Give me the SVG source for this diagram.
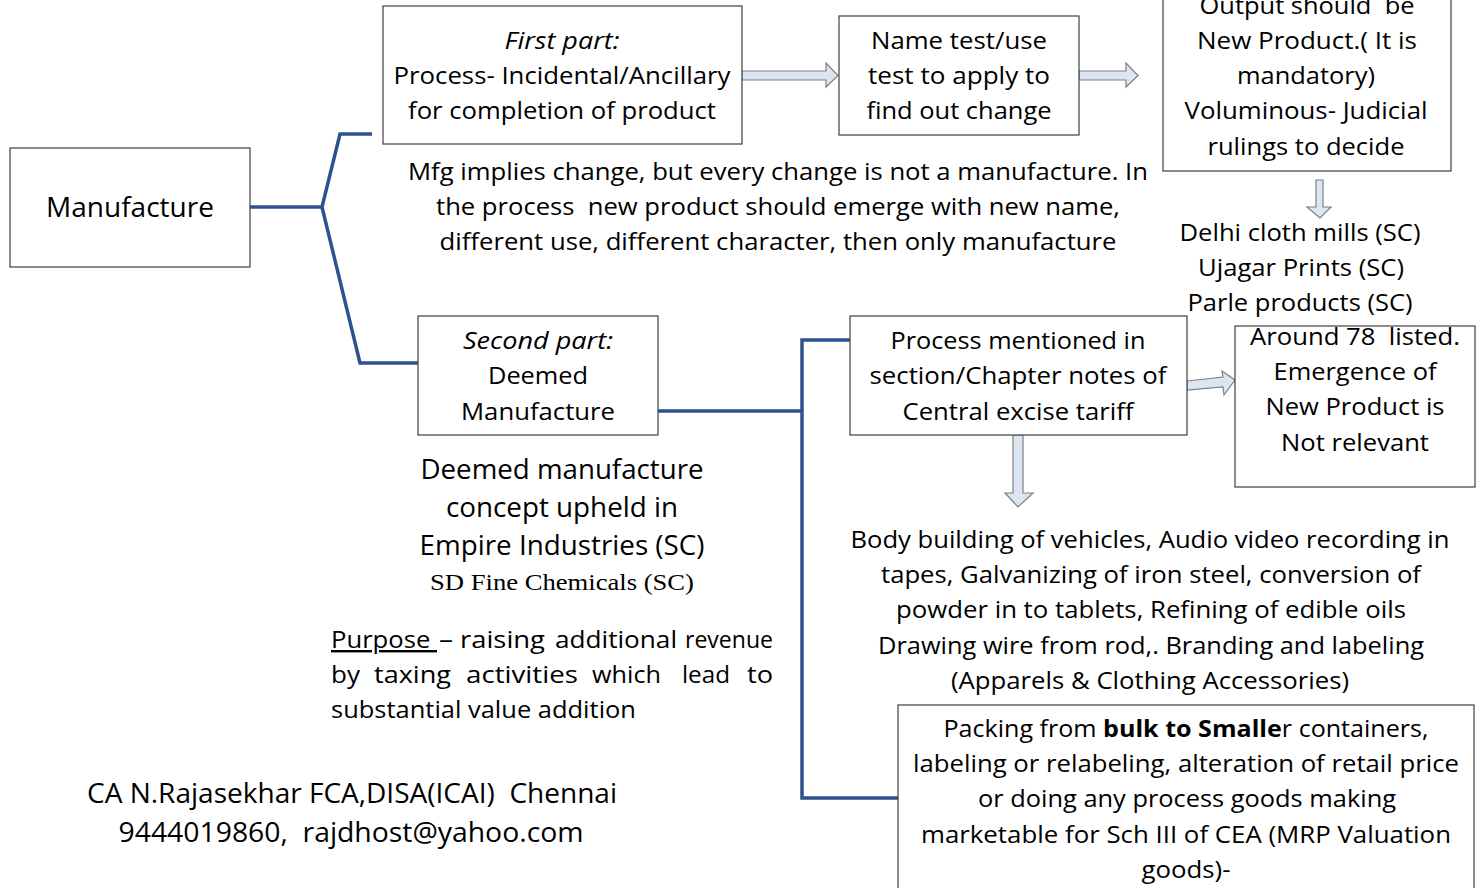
<svg xmlns="http://www.w3.org/2000/svg" width="1482" height="888" viewBox="0 0 1482 888">
<style>
.box{fill:#ffffff;stroke:#404040;stroke-width:1.2}
.t{font-family:"Open Sans","Liberation Sans",sans-serif;font-size:24px;fill:#000;text-anchor:middle}
.l{font-family:"Open Sans","Liberation Sans",sans-serif;font-size:24px;fill:#000}
.big{font-size:28px}
.it{font-style:italic}
.conn{fill:none;stroke:#2F528F;stroke-width:3.5;stroke-linejoin:miter}
.harrow{fill:#DCE6F2;stroke:#7F7F7F;stroke-width:1.2}
</style>
<rect width="1482" height="888" fill="#ffffff"/>

<g id="connectors">
<polyline class="conn" points="250,207 322,207"/>
<polyline class="conn" points="372,134 340,134 322,207 360,363 418,363"/>
<polyline class="conn" points="658,411 802,411"/>
<polyline class="conn" points="850,340 802,340 802,798 898,798"/>
<polygon class="harrow" points="742,71 826,71 826,63 838,75.5 826,87 826,80 742,80"/>
<polygon class="harrow" points="1079,71 1126,71 1126,63 1138,75.5 1126,87 1126,80 1079,80"/>
<polygon class="harrow" points="1316,180 1323,180 1323,207 1331,207 1320,218 1307,207 1316,207"/>
<polygon class="harrow" points="1013,435 1023,435 1023,493 1033,493 1018,507 1005,493 1013,493"/>
<polygon class="harrow" points="1187,381 1223,377 1222,371 1235,380 1224,395 1223,387 1187,390"/>
</g>

<g id="manufacture">
<rect class="box" x="10" y="148" width="240" height="119"/>
<text class="t big" x="130" y="217" textLength="168" lengthAdjust="spacingAndGlyphs">Manufacture</text>
</g>

<g id="first-part">
<rect class="box" x="383" y="6" width="359" height="138"/>
<text class="t it" x="562" y="49" textLength="115" lengthAdjust="spacingAndGlyphs">First part:</text>
<text class="t" x="562" y="84" textLength="337" lengthAdjust="spacingAndGlyphs">Process- Incidental/Ancillary</text>
<text class="t" x="562" y="119" textLength="308" lengthAdjust="spacingAndGlyphs">for completion of product</text>
</g>

<g id="name-test">
<rect class="box" x="839" y="16" width="240" height="119"/>
<text class="t" x="959" y="49" textLength="176" lengthAdjust="spacingAndGlyphs">Name test/use</text>
<text class="t" x="959" y="84" textLength="182" lengthAdjust="spacingAndGlyphs">test to apply to</text>
<text class="t" x="959" y="119" textLength="185" lengthAdjust="spacingAndGlyphs">find out change</text>
</g>

<g id="output">
<rect class="box" x="1163" y="-30" width="288" height="201"/>
<text class="t" x="1307" y="14" textLength="215" lengthAdjust="spacingAndGlyphs" style="white-space:pre">Output should  be</text>
<text class="t" x="1307" y="49" textLength="220" lengthAdjust="spacingAndGlyphs">New Product.( It is</text>
<text class="t" x="1306" y="84" textLength="138" lengthAdjust="spacingAndGlyphs">mandatory)</text>
<text class="t" x="1306" y="119" textLength="243" lengthAdjust="spacingAndGlyphs">Voluminous- Judicial</text>
<text class="t" x="1306" y="155" textLength="197" lengthAdjust="spacingAndGlyphs">rulings to decide</text>
</g>

<g id="cases">
<text class="t" x="1300" y="241" textLength="241" lengthAdjust="spacingAndGlyphs">Delhi cloth mills (SC)</text>
<text class="t" x="1301" y="276" textLength="206" lengthAdjust="spacingAndGlyphs">Ujagar Prints (SC)</text>
<text class="t" x="1300" y="311" textLength="225" lengthAdjust="spacingAndGlyphs">Parle products (SC)</text>
</g>

<g id="mfg-note">
<text class="t" x="778" y="180" textLength="740" lengthAdjust="spacingAndGlyphs">Mfg implies change, but every change is not a manufacture. In</text>
<text class="t" x="778" y="215" textLength="684" lengthAdjust="spacingAndGlyphs" style="white-space:pre">the process  new product should emerge with new name,</text>
<text class="t" x="778" y="250" textLength="677" lengthAdjust="spacingAndGlyphs">different use, different character, then only manufacture</text>
</g>

<g id="second-part">
<rect class="box" x="418" y="316" width="240" height="119"/>
<text class="t it" x="538" y="349" textLength="150" lengthAdjust="spacingAndGlyphs">Second part:</text>
<text class="t" x="538" y="384" textLength="100" lengthAdjust="spacingAndGlyphs">Deemed</text>
<text class="t" x="538" y="420" textLength="154" lengthAdjust="spacingAndGlyphs">Manufacture</text>
</g>

<g id="process">
<rect class="box" x="850" y="316" width="337" height="119"/>
<text class="t" x="1018" y="349" textLength="255" lengthAdjust="spacingAndGlyphs">Process mentioned in</text>
<text class="t" x="1018" y="384" textLength="297" lengthAdjust="spacingAndGlyphs">section/Chapter notes of</text>
<text class="t" x="1018" y="420" textLength="231" lengthAdjust="spacingAndGlyphs">Central excise tariff</text>
</g>

<g id="around">
<rect class="box" x="1235" y="326" width="240" height="161"/>
<text class="t" x="1355" y="345" textLength="210" lengthAdjust="spacingAndGlyphs" style="white-space:pre">Around 78  listed.</text>
<text class="t" x="1355" y="380" textLength="163" lengthAdjust="spacingAndGlyphs">Emergence of</text>
<text class="t" x="1355" y="415" textLength="179" lengthAdjust="spacingAndGlyphs">New Product is</text>
<text class="t" x="1355" y="451" textLength="148" lengthAdjust="spacingAndGlyphs">Not relevant</text>
</g>

<g id="examples">
<text class="t" x="1150" y="548" textLength="599" lengthAdjust="spacingAndGlyphs">Body building of vehicles, Audio video recording in</text>
<text class="t" x="1151" y="583" textLength="540" lengthAdjust="spacingAndGlyphs">tapes, Galvanizing of iron steel, conversion of</text>
<text class="t" x="1151" y="618" textLength="510" lengthAdjust="spacingAndGlyphs">powder in to tablets, Refining of edible oils</text>
<text class="t" x="1151" y="654" textLength="546" lengthAdjust="spacingAndGlyphs">Drawing wire from rod,. Branding and labeling</text>
<text class="t" x="1150" y="689" textLength="398" lengthAdjust="spacingAndGlyphs">(Apparels &amp; Clothing Accessories)</text>
</g>

<g id="packing">
<rect class="box" x="898" y="705" width="576" height="200"/>
<text class="t" x="1186" y="737" textLength="485" lengthAdjust="spacingAndGlyphs">Packing from <tspan font-weight="bold">bulk to Smalle</tspan>r containers,</text>
<text class="t" x="1186" y="772" textLength="546" lengthAdjust="spacingAndGlyphs">labeling or relabeling, alteration of retail price</text>
<text class="t" x="1187" y="807" textLength="418" lengthAdjust="spacingAndGlyphs">or doing any process goods making</text>
<text class="t" x="1186" y="843" textLength="530" lengthAdjust="spacingAndGlyphs">marketable for Sch III of CEA (MRP Valuation</text>
<text class="t" x="1186" y="878" textLength="89" lengthAdjust="spacingAndGlyphs">goods)-</text>
</g>

<g id="deemed-note">
<text class="t big" x="562" y="479" textLength="283" lengthAdjust="spacingAndGlyphs">Deemed manufacture</text>
<text class="t big" x="562" y="517" textLength="232" lengthAdjust="spacingAndGlyphs">concept upheld in</text>
<text class="t big" x="562" y="555" textLength="285" lengthAdjust="spacingAndGlyphs">Empire Industries (SC)</text>
<text x="562" y="590" font-family="'Liberation Serif','Times New Roman',serif" font-size="23" text-anchor="middle" textLength="264" lengthAdjust="spacingAndGlyphs">SD Fine Chemicals (SC)</text>
</g>

<g id="purpose">
<text class="l" x="331" y="648" textLength="106" lengthAdjust="spacingAndGlyphs" text-decoration="underline" style="white-space:pre">Purpose </text>
<text class="l" x="439" y="648" textLength="14" lengthAdjust="spacingAndGlyphs">–</text>
<text class="l" x="460" y="648" textLength="85" lengthAdjust="spacingAndGlyphs">raising</text>
<text class="l" x="555" y="648" textLength="122" lengthAdjust="spacingAndGlyphs">additional</text>
<text class="l" x="685" y="648" textLength="88" lengthAdjust="spacingAndGlyphs">revenue</text>
<text class="l" x="331" y="683" textLength="29" lengthAdjust="spacingAndGlyphs">by</text>
<text class="l" x="374" y="683" textLength="77" lengthAdjust="spacingAndGlyphs">taxing</text>
<text class="l" x="466" y="683" textLength="112" lengthAdjust="spacingAndGlyphs">activities</text>
<text class="l" x="592" y="683" textLength="69" lengthAdjust="spacingAndGlyphs">which</text>
<text class="l" x="682" y="683" textLength="48" lengthAdjust="spacingAndGlyphs">lead</text>
<text class="l" x="747" y="683" textLength="26" lengthAdjust="spacingAndGlyphs">to</text>
<text class="l" x="331" y="718" textLength="305" lengthAdjust="spacingAndGlyphs">substantial value addition</text>
</g>

<g id="author">
<text class="t" x="352" y="803" font-size="27" style="white-space:pre;font-size:27px" textLength="530" lengthAdjust="spacingAndGlyphs">CA N.Rajasekhar FCA,DISA(ICAI)  Chennai</text>
<text class="t" x="351" y="842" style="white-space:pre;font-size:27px" textLength="465" lengthAdjust="spacingAndGlyphs">9444019860,  rajdhost@yahoo.com</text>
</g>
</svg>
